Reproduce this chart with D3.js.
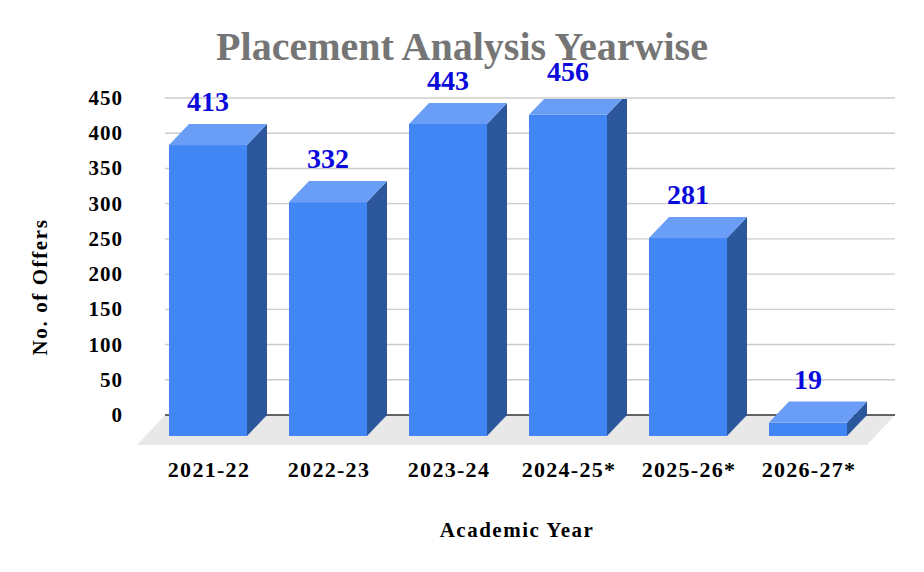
<!DOCTYPE html>
<html><head><meta charset="utf-8">
<script src="https://cdn.jsdelivr.net/npm/d3@7/dist/d3.min.js"></script>
<style>body{margin:0;background:#fff}svg{display:block}</style>
</head><body>
<script>
const categories = ["2021-22","2022-23","2023-24","2024-25*","2025-26*","2026-27*"];
const offers = [413, 332, 443, 456, 281, 19];
const yTicks = [0,50,100,150,200,250,300,350,400,450];
const title = "Placement Analysis Yearwise";
const xTitle = "Academic Year";
const yTitle = "No. of Offers";

const W = 924, H = 572;
const font = "'Liberation Serif','Times New Roman',serif";
const svg = d3.select("body").append("svg").attr("width", W).attr("height", H);

// back wall scale
const y = d3.scaleLinear().domain([0, 450]).range([415, 98]);
const x = d3.scaleBand().domain(categories).range([148, 868]).paddingInner(0.35).paddingOuter(0.175);
const dx = 20, dy = 21;          // bar depth
const fdx = 28, fdy = 30;        // floor depth
const wallL = 165, wallR = 895;

// floor
svg.append("polygon")
  .attr("points", [[wallL - fdx, y(0) + fdy],[wallL, y(0)],[wallR, y(0)],[wallR - fdx, y(0) + fdy]].join(" "))
  .attr("fill", "#e8e8e8");

// gridlines
svg.append("g").selectAll("line").data(yTicks).join("line")
  .attr("x1", wallL).attr("x2", wallR)
  .attr("y1", d => y(d)).attr("y2", d => y(d))
  .attr("stroke", d => d === 0 ? "#333" : "#cccccc")
  .attr("stroke-width", d => d === 0 ? 1.6 : 1.4);

// tick labels
svg.append("g").selectAll("text").data(yTicks).join("text")
  .attr("x", 123).attr("y", d => y(d) + 7)
  .attr("text-anchor", "end")
  .attr("font-family", font).attr("font-weight", "bold").attr("font-size", 21)
  .attr("letter-spacing", 1)
  .attr("fill", "#000").text(d => d);

// bars
svg.append("clipPath").attr("id", "clip").append("rect")
  .attr("x", 0).attr("y", y(450) + 1).attr("width", W).attr("height", H);
const bars = svg.append("g").attr("clip-path", "url(#clip)");
const g = bars.selectAll("g").data(categories.map((c, i) => ({c, v: offers[i]}))).join("g");
g.each(function(d) {
  const s = d3.select(this);
  const x0 = x(d.c), x1 = x0 + x.bandwidth();
  const yf = y(d.v) + dy, yb = y(0) + dy;
  s.append("rect").attr("x", x0).attr("y", yf).attr("width", x1 - x0).attr("height", yb - yf).attr("fill", "#4285f4");
  s.append("polygon").attr("points", [[x1, yf],[x1 + dx, yf - dy],[x1 + dx, yb - dy],[x1, yb]].join(" ")).attr("fill", "#2c579d");
  s.append("polygon").attr("points", [[x0, yf],[x0 + dx, yf - dy],[x1 + dx, yf - dy],[x1, yf]].join(" ")).attr("fill", "#6a9ef6");
});

// value labels
svg.append("g").selectAll("text").data(categories).join("text")
  .attr("x", d => x(d) + x.bandwidth() / 2)
  .attr("y", (d, i) => y(offers[i]) - 13)
  .attr("text-anchor", "middle")
  .attr("font-family", font).attr("font-weight", "bold").attr("font-size", 28)
  .attr("fill", "#0a0adc").text((d, i) => offers[i]);

// category labels
svg.append("g").selectAll("text").data(categories).join("text")
  .attr("x", d => x(d) + x.bandwidth() / 2 + 1)
  .attr("y", 477)
  .attr("text-anchor", "middle")
  .attr("font-family", font).attr("font-weight", "bold").attr("font-size", 22)
  .attr("letter-spacing", 1.3)
  .attr("fill", "#000").text(d => d);

// title
svg.append("text").attr("x", 462).attr("y", 60).attr("text-anchor", "middle")
  .attr("font-family", font).attr("font-weight", "bold").attr("font-size", 40)
  .attr("fill", "#757575").text(title);

// axis titles
svg.append("text").attr("x", 517).attr("y", 537).attr("text-anchor", "middle")
  .attr("font-family", font).attr("font-weight", "bold").attr("font-size", 21)
  .attr("letter-spacing", 1.5)
  .attr("fill", "#000").text(xTitle);
svg.append("text").attr("transform", "translate(47,287) rotate(-90)").attr("text-anchor", "middle")
  .attr("font-family", font).attr("font-weight", "bold").attr("font-size", 21)
  .attr("letter-spacing", 1.6)
  .attr("fill", "#000").text(yTitle);
</script>
</body></html>
